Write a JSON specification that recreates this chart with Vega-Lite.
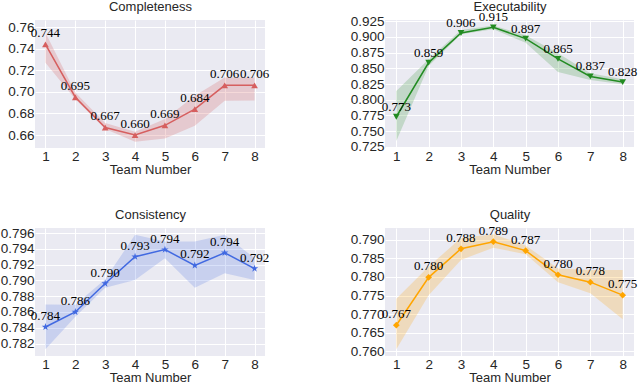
{
  "$schema": "https://vega.github.io/schema/vega-lite/v6.json",
  "background": "white",
  "padding": {"left": 0, "top": 0, "right": 0, "bottom": 0},
  "datasets": {
    "completeness": [
      {"team": 1, "v": 0.744, "lo": 0.727, "hi": 0.7547, "label": "0.744"},
      {"team": 2, "v": 0.695, "lo": 0.6932, "hi": 0.6993, "label": "0.695"},
      {"team": 3, "v": 0.667, "lo": 0.6655, "hi": 0.6711, "label": "0.667"},
      {"team": 4, "v": 0.660, "lo": 0.6538, "hi": 0.663, "label": "0.660"},
      {"team": 5, "v": 0.669, "lo": 0.6569, "hi": 0.6748, "label": "0.669"},
      {"team": 6, "v": 0.684, "lo": 0.6686, "hi": 0.6963, "label": "0.684"},
      {"team": 7, "v": 0.706, "lo": 0.6917, "hi": 0.7132, "label": "0.706"},
      {"team": 8, "v": 0.706, "lo": 0.692, "hi": 0.7132, "label": "0.706"}
    ],
    "executability": [
      {"team": 1, "v": 0.773, "lo": 0.7345, "hi": 0.814, "label": "0.773"},
      {"team": 2, "v": 0.859, "lo": 0.8536, "hi": 0.8642, "label": "0.859"},
      {"team": 3, "v": 0.906, "lo": 0.9039, "hi": 0.9107, "label": "0.906"},
      {"team": 4, "v": 0.915, "lo": 0.9118, "hi": 0.918, "label": "0.915"},
      {"team": 5, "v": 0.897, "lo": 0.8906, "hi": 0.9023, "label": "0.897"},
      {"team": 6, "v": 0.865, "lo": 0.844, "hi": 0.8737, "label": "0.865"},
      {"team": 7, "v": 0.837, "lo": 0.8313, "hi": 0.842, "label": "0.837"},
      {"team": 8, "v": 0.828, "lo": 0.8245, "hi": 0.8325, "label": "0.828"}
    ],
    "consistency": [
      {"team": 1, "v": 0.7841, "lo": 0.78127, "hi": 0.78696, "label": "0.784"},
      {"team": 2, "v": 0.786, "lo": 0.78539, "hi": 0.7869, "label": "0.786"},
      {"team": 3, "v": 0.7896, "lo": 0.78908, "hi": 0.79016, "label": "0.790"},
      {"team": 4, "v": 0.793, "lo": 0.79006, "hi": 0.79578, "label": "0.793"},
      {"team": 5, "v": 0.7939, "lo": 0.79282, "hi": 0.79493, "label": "0.794"},
      {"team": 6, "v": 0.7919, "lo": 0.78908, "hi": 0.79493, "label": "0.792"},
      {"team": 7, "v": 0.7935, "lo": 0.79091, "hi": 0.79578, "label": "0.794"},
      {"team": 8, "v": 0.7915, "lo": 0.79006, "hi": 0.79282, "label": "0.792"}
    ],
    "quality": [
      {"team": 1, "v": 0.767, "lo": 0.7605, "hi": 0.7741, "label": "0.767"},
      {"team": 2, "v": 0.7799, "lo": 0.7751, "hi": 0.7828, "label": "0.780"},
      {"team": 3, "v": 0.7876, "lo": 0.7846, "hi": 0.7905, "label": "0.788"},
      {"team": 4, "v": 0.7895, "lo": 0.7879, "hi": 0.7915, "label": "0.789"},
      {"team": 5, "v": 0.7871, "lo": 0.7861, "hi": 0.7885, "label": "0.787"},
      {"team": 6, "v": 0.7806, "lo": 0.7786, "hi": 0.7823, "label": "0.780"},
      {"team": 7, "v": 0.7786, "lo": 0.7756, "hi": 0.7819, "label": "0.778"},
      {"team": 8, "v": 0.7751, "lo": 0.7686, "hi": 0.7819, "label": "0.775"}
    ]
  },
  "columns": 2,
  "align": "each",
  "bounds": "flush",
  "spacing": {"row": 80, "column": 120},
  "resolve": {"scale": {"x": "independent", "y": "independent"}},
  "concat": [
    {
      "width": 230, "height": 128,
      "data": {"name": "completeness"},
      "resolve": {"axis": {"x": "independent"}},
      "layer": [
        {"mark": {"type": "area", "color": "#d65f5f", "opacity": 0.24},
         "encoding": {
           "x": {"field": "team", "type": "quantitative", "scale": {"domain": [0.65, 8.35], "nice": false, "zero": false},
                 "axis": {"values": [1, 2, 3, 4, 5, 6, 7, 8], "tickCount": 20, "format": "d", "title": "Team Number", "labelFlush": false}},
           "y": {"field": "lo", "type": "quantitative", "scale": {"domain": [0.648, 0.7665], "nice": false, "zero": false},
                 "axis": {"values": [0.66, 0.68, 0.70, 0.72, 0.74, 0.76], "tickCount": 20, "format": ".2f", "title": null}},
           "y2": {"field": "hi"}}},
        {"mark": {"type": "line", "color": "#d65f5f", "strokeWidth": 1.5},
         "encoding": {"x": {"field": "team", "type": "quantitative", "axis": null}, "y": {"field": "v", "type": "quantitative"}}},
        {"mark": {"type": "point", "shape": "triangle-up", "filled": true, "opacity": 1, "size": 45, "color": "#d65f5f"},
         "encoding": {"x": {"field": "team", "type": "quantitative", "axis": null}, "y": {"field": "v", "type": "quantitative"}}},
        {"mark": {"type": "text", "font": "Liberation Serif", "fontSize": 13, "color": "black", "baseline": "alphabetic", "dy": -7},
         "encoding": {
           "x": {"field": "team", "type": "quantitative",
                 "axis": {"orient": "top", "title": "Completeness", "labels": false, "grid": false, "ticks": false, "domain": false, "titlePadding": 7}},
           "y": {"field": "v", "type": "quantitative"}, "text": {"field": "label"}}}
      ]
    },
    {
      "width": 249, "height": 128,
      "data": {"name": "executability"},
      "resolve": {"axis": {"x": "independent"}},
      "layer": [
        {"mark": {"type": "area", "color": "#228b22", "opacity": 0.2},
         "encoding": {
           "x": {"field": "team", "type": "quantitative", "scale": {"domain": [0.65, 8.35], "nice": false, "zero": false},
                 "axis": {"values": [1, 2, 3, 4, 5, 6, 7, 8], "tickCount": 20, "format": "d", "title": "Team Number", "labelFlush": false}},
           "y": {"field": "lo", "type": "quantitative", "scale": {"domain": [0.7234, 0.9266], "nice": false, "zero": false},
                 "axis": {"values": [0.725, 0.75, 0.775, 0.8, 0.825, 0.85, 0.875, 0.9, 0.925], "tickCount": 20, "format": ".3f", "title": null}},
           "y2": {"field": "hi"}}},
        {"mark": {"type": "line", "color": "#228b22", "strokeWidth": 1.5},
         "encoding": {"x": {"field": "team", "type": "quantitative", "axis": null}, "y": {"field": "v", "type": "quantitative"}}},
        {"mark": {"type": "point", "shape": "triangle-down", "filled": true, "opacity": 1, "size": 45, "color": "#228b22"},
         "encoding": {"x": {"field": "team", "type": "quantitative", "axis": null}, "y": {"field": "v", "type": "quantitative"}}},
        {"mark": {"type": "text", "font": "Liberation Serif", "fontSize": 13, "color": "black", "baseline": "alphabetic", "dy": -6},
         "encoding": {
           "x": {"field": "team", "type": "quantitative",
                 "axis": {"orient": "top", "title": "Executability", "labels": false, "grid": false, "ticks": false, "domain": false, "titlePadding": 7}},
           "y": {"field": "v", "type": "quantitative"}, "text": {"field": "label"}}}
      ]
    },
    {
      "width": 230, "height": 128,
      "data": {"name": "consistency"},
      "resolve": {"axis": {"x": "independent"}},
      "layer": [
        {"mark": {"type": "area", "color": "#4169e1", "opacity": 0.2},
         "encoding": {
           "x": {"field": "team", "type": "quantitative", "scale": {"domain": [0.65, 8.35], "nice": false, "zero": false},
                 "axis": {"values": [1, 2, 3, 4, 5, 6, 7, 8], "tickCount": 20, "format": "d", "title": "Team Number", "labelFlush": false}},
           "y": {"field": "lo", "type": "quantitative", "scale": {"domain": [0.78042, 0.79664], "nice": false, "zero": false},
                 "axis": {"values": [0.782, 0.784, 0.786, 0.788, 0.79, 0.792, 0.794, 0.796], "tickCount": 20, "format": ".3f", "title": null}},
           "y2": {"field": "hi"}}},
        {"mark": {"type": "line", "color": "#4169e1", "strokeWidth": 1.5},
         "encoding": {"x": {"field": "team", "type": "quantitative", "axis": null}, "y": {"field": "v", "type": "quantitative"}}},
        {"mark": {"type": "point", "shape": "M0,-1L0.2245,-0.309L0.9511,-0.309L0.3633,0.118L0.5878,0.809L0,0.382L-0.5878,0.809L-0.3633,0.118L-0.9511,-0.309L-0.2245,-0.309Z", "filled": true, "opacity": 1, "size": 60, "color": "#4169e1"},
         "encoding": {"x": {"field": "team", "type": "quantitative", "axis": null}, "y": {"field": "v", "type": "quantitative"}}},
        {"mark": {"type": "text", "font": "Liberation Serif", "fontSize": 13, "color": "black", "baseline": "alphabetic", "dy": -7},
         "encoding": {
           "x": {"field": "team", "type": "quantitative",
                 "axis": {"orient": "top", "title": "Consistency", "labels": false, "grid": false, "ticks": false, "domain": false, "titlePadding": 7}},
           "y": {"field": "v", "type": "quantitative"}, "text": {"field": "label"}}}
      ]
    },
    {
      "width": 249, "height": 128,
      "data": {"name": "quality"},
      "resolve": {"axis": {"x": "independent"}},
      "layer": [
        {"mark": {"type": "area", "color": "#ffa500", "opacity": 0.22},
         "encoding": {
           "x": {"field": "team", "type": "quantitative", "scale": {"domain": [0.65, 8.35], "nice": false, "zero": false},
                 "axis": {"values": [1, 2, 3, 4, 5, 6, 7, 8], "tickCount": 20, "format": "d", "title": "Team Number", "labelFlush": false}},
           "y": {"field": "lo", "type": "quantitative", "scale": {"domain": [0.7587, 0.7932], "nice": false, "zero": false},
                 "axis": {"values": [0.76, 0.765, 0.77, 0.775, 0.78, 0.785, 0.79], "tickCount": 20, "format": ".3f", "title": null}},
           "y2": {"field": "hi"}}},
        {"mark": {"type": "line", "color": "#ffa500", "strokeWidth": 1.5},
         "encoding": {"x": {"field": "team", "type": "quantitative", "axis": null}, "y": {"field": "v", "type": "quantitative"}}},
        {"mark": {"type": "point", "shape": "diamond", "filled": true, "opacity": 1, "size": 45, "color": "#ffa500"},
         "encoding": {"x": {"field": "team", "type": "quantitative", "axis": null}, "y": {"field": "v", "type": "quantitative"}}},
        {"mark": {"type": "text", "font": "Liberation Serif", "fontSize": 13, "color": "black", "baseline": "alphabetic", "dy": -7},
         "encoding": {
           "x": {"field": "team", "type": "quantitative",
                 "axis": {"orient": "top", "title": "Quality", "labels": false, "grid": false, "ticks": false, "domain": false, "titlePadding": 7}},
           "y": {"field": "v", "type": "quantitative"}, "text": {"field": "label"}}}
      ]
    }
  ],
  "config": {
    "view": {"fill": "#EAEAF2", "stroke": null},
    "axis": {
      "domain": false, "ticks": false, "gridColor": "white", "gridWidth": 1, "gridOpacity": 1,
      "labelFont": "Liberation Sans", "labelFontSize": 13.5, "labelColor": "#262626", "labelPadding": 1,
      "labelOverlap": false,
      "titleFont": "Liberation Sans", "titleFontSize": 13, "titleFontWeight": "normal", "titleColor": "#262626", "titlePadding": 1
    }
  }
}
